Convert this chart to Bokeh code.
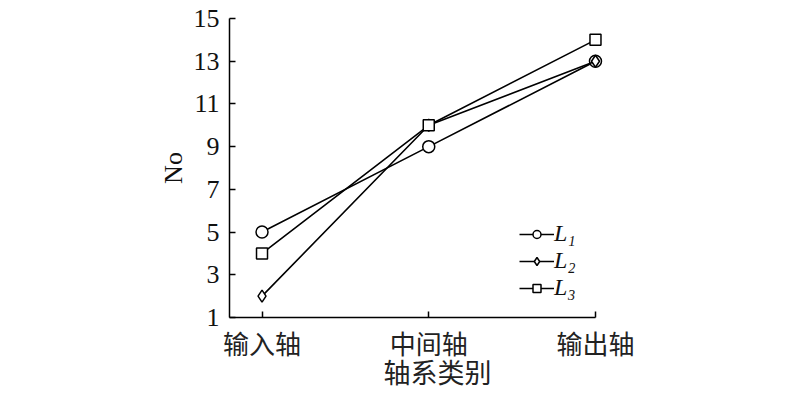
from bokeh.plotting import figure
from bokeh.models import FixedTicker, Range1d, Legend, LegendItem
from bokeh.embed import file_html
from bokeh.resources import INLINE

categories = ["输入轴", "中间轴", "输出轴"]
L1 = [5, 9, 13]
L2 = [2, 10, 13]
L3 = [4, 10, 14]
y_ticks = [1, 3, 5, 7, 9, 11, 13, 15]

xs = list(range(len(categories)))

p = figure(width=800, height=393, output_backend="svg", toolbar_location=None,
           x_range=Range1d(-0.195, 2.3), y_range=Range1d(1, 15),
           min_border_left=229, min_border_right=155,
           min_border_top=18, min_border_bottom=75)
p.outline_line_color = None
p.xgrid.visible = False
p.ygrid.visible = False
p.background_fill_color = "white"
p.border_fill_color = "white"

serif = "Liberation Serif"
cjk = "Noto Sans CJK SC"

xa = p.xaxis[0]
xa.ticker = FixedTicker(ticks=xs)
xa.major_label_overrides = {i: c for i, c in enumerate(categories)}
xa.bounds = (-0.195, 2)
xa.major_tick_in = 6
xa.major_tick_out = 0
xa.minor_tick_line_color = None
xa.axis_line_width = 1.5
xa.major_tick_line_width = 1.5
xa.major_label_text_font = cjk
xa.major_label_text_font_size = "26px"
xa.major_label_text_color = "#222222"
xa.major_label_standoff = 6
xa.axis_label = "轴系类别"
xa.axis_label_text_font = cjk
xa.axis_label_text_font_size = "27px"
xa.axis_label_text_font_style = "normal"
xa.axis_label_text_color = "#222222"
xa.axis_label_standoff = -12

ya = p.yaxis[0]
ya.ticker = FixedTicker(ticks=y_ticks)
ya.major_tick_in = 6
ya.major_tick_out = 0
ya.minor_tick_line_color = None
ya.axis_line_width = 1.5
ya.major_tick_line_width = 1.5
ya.major_label_text_font = serif
ya.major_label_text_font_size = "26px"
ya.major_label_text_color = "#111111"
ya.major_label_standoff = 10
ya.axis_label = "No"
ya.axis_label_text_font = serif
ya.axis_label_text_font_size = "26px"
ya.axis_label_text_font_style = "normal"
ya.axis_label_text_color = "#111111"
ya.axis_label_standoff = 3

items = []
for data, marker, size, label in [(L1, "circle", 12, "L\u2081"),
                                  (L2, "diamond", 12, "L\u2082"),
                                  (L3, "square", 11, "L\u2083")]:
    r_line = p.line(xs, data, line_color="black", line_width=1.6)
    r_mark = p.scatter(xs, data, marker=marker, size=size, fill_color="white",
                       line_color="black", line_width=1.5)
    items.append(LegendItem(label=label, renderers=[r_line, r_mark]))

legend = Legend(items=items, location=(290, 16), padding=0, margin=0,
                spacing=0, glyph_width=35, glyph_height=20, label_height=20,
                label_standoff=0, border_line_color=None,
                background_fill_alpha=0,
                label_text_font=serif, label_text_font_size="24px",
                label_text_font_style="italic", label_text_color="#111111")
p.add_layout(legend)

open("out.html", "w").write(file_html(p, INLINE))
